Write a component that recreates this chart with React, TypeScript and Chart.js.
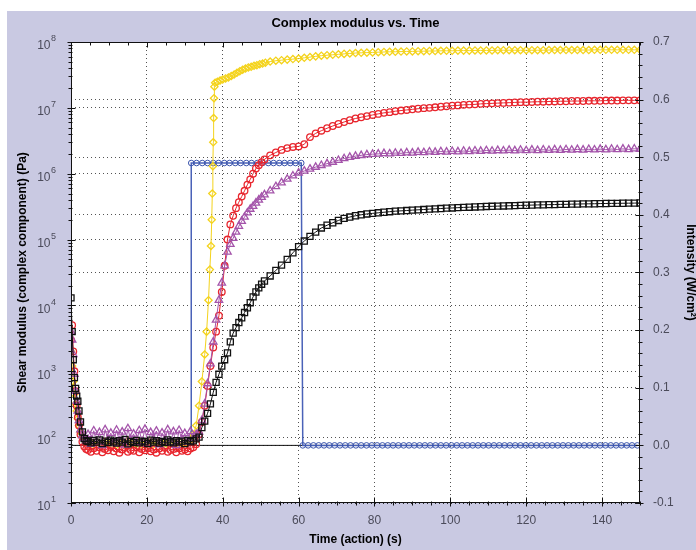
import React, { useEffect, useRef } from 'react';
import { Chart, registerables } from 'chart.js';

Chart.register(...registerables);

// ---------- data ----------
const TITLE = 'Complex modulus vs. Time';
const X_TITLE = 'Time (action) (s)';
const Y_TITLE = 'Shear modulus (complex component) (Pa)';
const Y2_TITLE = 'Intensity (W/cm²)';

const X_TICKS = [0, 20, 40, 60, 80, 100, 120, 140];
const Y_TICKS = [1e1, 1e2, 1e3, 1e4, 1e5, 1e6, 1e7, 1e8];
const Y2_TICKS = [-0.1, 0, 0.1, 0.2, 0.3, 0.4, 0.5, 0.6, 0.7];

// time (s)
const BASE_T = [
  0, 0.3, 0.6, 0.9, 1.2, 1.5, 1.8, 2.1, 2.5, 3, 3.5, 4,
  4.5, 5.25, 6, 6.75, 7.5, 8.25, 9, 9.75, 10.5, 11.25, 12, 12.75, 13.5, 14.25, 15, 15.75, 16.5, 17.25, 18, 18.75, 19.5, 20.25,
  21, 21.75, 22.5, 23.25, 24, 24.75, 25.5, 26.25, 27, 27.75, 28.5, 29.25, 30, 30.75, 31.5, 32.25, 33,
];
const RISE_T = [33.75, 34.5, 35.25, 36, 36.75, 37.5, 38.25, 39, 39.75, 40.5, 41.25, 42, 42.75, 43.5, 44.25, 45, 45.75, 46.5, 47.25, 48, 48.75, 49.5, 50.25, 51];
const YELLOW_RISE_T = [33.75, 34.5, 35.25, 35.75, 36.25, 36.6, 36.9, 37.1, 37.25, 37.4, 37.5, 37.6, 37.7, 37.8, 38, 38.6, 39.3, 40, 40.75, 41.5, 42.25, 43, 43.75, 44.5, 45.25, 46, 46.75, 47.5, 48.25, 49, 49.75, 50.5, 51.25];
const TAIL_T = [52.5, 54, 55.5, 57, 58.5, 60, 61.5, 63, 64.5, 66, 67.5, 69, 70.5, 72, 73.5, 75, 76.5, 78, 79.5, 81, 82.5, 84, 85.5, 87, 88.5, 90, 91.5, 93, 94.5, 96, 97.5, 99, 100.5, 102, 103.5, 105, 106.5, 108, 109.5, 111, 112.5, 114, 115.5, 117, 118.5, 120, 121.5, 123, 124.5, 126, 127.5, 129, 130.5, 132, 133.5, 135, 136.5, 138, 139.5, 141, 142.5, 144, 145.5, 147, 148.5, 150];

// shear modulus (Pa)
const BLACK_G = [
  1.3e4, 4e3, 1.5e3, 800, 550, 420, 350, 250, 170, 120, 95, 88,
  86, 82, 89, 84, 91, 80, 87, 83, 90, 85, 81, 88, 84, 92, 79, 86, 83, 89, 82, 87, 85, 80, 90, 84, 88, 81, 86, 83, 91, 85, 82, 88, 84, 87, 80, 89, 85, 88, 94,
  100, 140, 175, 230, 320, 480, 680, 900, 1200, 1500, 1900, 2800, 3800, 4600, 5500, 6500, 7800, 9200, 1.1e4, 1.35e4, 1.6e4, 1.85e4, 2.1e4, 2.35e4,
  2.8e4, 3.4e4, 4.1e4, 5e4, 6.3e4, 7.8e4, 9.5e4, 1.12e5, 1.3e5, 1.5e5, 1.65e5, 1.8e5, 1.95e5, 2.1e5, 2.2e5, 2.3e5, 2.38e5, 2.45e5, 2.5e5, 2.55e5,
  2.6e5, 2.65e5, 2.7e5, 2.73e5, 2.76e5, 2.8e5, 2.83e5, 2.86e5, 2.9e5, 2.93e5, 2.96e5, 3e5, 3.02e5, 3.05e5, 3.08e5, 3.1e5, 3.13e5, 3.15e5, 3.18e5, 3.2e5,
  3.22e5, 3.24e5, 3.26e5, 3.28e5, 3.3e5, 3.32e5, 3.34e5, 3.36e5, 3.37e5, 3.39e5, 3.4e5, 3.42e5, 3.43e5, 3.45e5, 3.46e5, 3.48e5, 3.49e5, 3.5e5, 3.52e5, 3.53e5,
  3.54e5, 3.55e5, 3.56e5, 3.57e5, 3.58e5, 3.6e5,
];
const RED_G = [
  3e3, 5e3, 2e3, 1e3, 500, 300, 200, 150, 110, 85, 72, 66,
  64, 60, 68, 62, 70, 59, 66, 63, 71, 61, 67, 58, 65, 69, 60, 64, 62, 70, 59, 66, 63, 68, 61, 65, 58, 67, 62, 69, 60, 64, 66, 59, 68, 62, 65, 61, 67, 70, 78,
  110, 170, 300, 600, 1200, 2300, 4000, 7000, 1.6e4, 4e4, 1e5, 1.7e5, 2.3e5, 3e5, 3.7e5, 4.5e5, 5.5e5, 6.8e5, 8.2e5, 1e6, 1.2e6, 1.35e6, 1.5e6, 1.65e6,
  1.9e6, 2.1e6, 2.3e6, 2.45e6, 2.55e6, 2.6e6, 2.8e6, 3.6e6, 4.1e6, 4.5e6, 4.9e6, 5.3e6, 5.7e6, 6.1e6, 6.5e6, 6.9e6, 7.2e6, 7.5e6, 7.8e6, 8.1e6,
  8.4e6, 8.6e6, 8.9e6, 9.1e6, 9.3e6, 9.5e6, 9.7e6, 9.9e6, 1.0e7, 1.02e7, 1.04e7, 1.06e7, 1.08e7, 1.09e7, 1.11e7, 1.12e7, 1.13e7, 1.15e7, 1.16e7, 1.17e7,
  1.18e7, 1.19e7, 1.2e7, 1.21e7, 1.22e7, 1.22e7, 1.23e7, 1.24e7, 1.24e7, 1.25e7, 1.25e7, 1.26e7, 1.26e7, 1.27e7, 1.27e7, 1.27e7, 1.28e7, 1.28e7, 1.28e7, 1.29e7,
  1.29e7, 1.29e7, 1.3e7, 1.3e7, 1.3e7, 1.3e7,
];
const PURPLE_G = [
  4e3, 3e3, 1.8e3, 900, 500, 350, 250, 180, 130, 105, 95, 88,
  110, 78, 125, 85, 118, 75, 130, 92, 115, 80, 128, 88, 120, 76, 135, 90, 112, 82, 126, 86, 132, 79, 118, 94, 124, 77, 116, 89, 130, 83, 121, 75, 127, 91, 114, 84, 122, 96, 110,
  120, 180, 320, 650, 1300, 2800, 6000, 1.2e4, 2.2e4, 4e4, 6.5e4, 8.5e4, 1.05e5, 1.3e5, 1.6e5, 1.9e5, 2.2e5, 2.55e5, 2.9e5, 3.2e5, 3.6e5, 4e5, 4.4e5, 4.8e5,
  5.5e5, 6.4e5, 7.3e5, 8.3e5, 9.3e5, 1.03e6, 1.1e6, 1.18e6, 1.26e6, 1.34e6, 1.42e6, 1.5e6, 1.6e6, 1.7e6, 1.78e6, 1.85e6, 1.9e6, 1.95e6, 1.98e6, 2.0e6,
  2.03e6, 2.01e6, 2.06e6, 2.04e6, 2.09e6, 2.07e6, 2.12e6, 2.1e6, 2.15e6, 2.12e6, 2.17e6, 2.14e6, 2.19e6, 2.16e6, 2.21e6, 2.18e6, 2.23e6, 2.2e6, 2.25e6, 2.21e6,
  2.26e6, 2.23e6, 2.28e6, 2.24e6, 2.29e6, 2.25e6, 2.3e6, 2.26e6, 2.31e6, 2.27e6, 2.32e6, 2.28e6, 2.33e6, 2.29e6, 2.34e6, 2.3e6, 2.35e6, 2.31e6, 2.36e6, 2.32e6,
  2.37e6, 2.33e6, 2.38e6, 2.34e6, 2.39e6, 2.36e6,
];
const YELLOW_G = [
  2e3, 1.2e3, 700, 450, 320, 250, 190, 150, 120, 100, 90, 84,
  80, 84, 78, 86, 81, 77, 85, 79, 83, 80, 76, 84, 82, 78, 87, 80, 83, 79, 85, 77, 82, 80, 86, 78, 81, 84, 79, 83, 77, 85, 80, 82, 78, 86, 81, 84, 90, 110, 150,
  300, 700, 1800, 4000, 1.2e4, 3.5e4, 8e4, 2e5, 5e5, 1.3e6, 3e6, 7e6, 1.4e7, 2.1e7, 2.4e7, 2.5e7, 2.6e7, 2.7e7, 2.8e7, 2.9e7, 3.05e7, 3.2e7, 3.4e7, 3.6e7, 3.8e7, 3.95e7, 4.1e7, 4.2e7, 4.35e7, 4.45e7, 4.6e7, 4.7e7, 4.85e7,
  5.05e7, 5.2e7, 5.3e7, 5.4e7, 5.5e7, 5.6e7, 5.75e7, 5.9e7, 6.05e7, 6.2e7, 6.3e7, 6.4e7, 6.5e7, 6.6e7, 6.7e7, 6.8e7, 6.85e7, 6.9e7, 6.95e7, 7e7,
  7.05e7, 7.1e7, 7.1e7, 7.15e7, 7.2e7, 7.2e7, 7.25e7, 7.25e7, 7.3e7, 7.3e7, 7.35e7, 7.35e7, 7.35e7, 7.4e7, 7.4e7, 7.4e7, 7.45e7, 7.45e7, 7.45e7, 7.45e7,
  7.5e7, 7.5e7, 7.5e7, 7.5e7, 7.5e7, 7.5e7, 7.5e7, 7.5e7, 7.5e7, 7.55e7, 7.55e7, 7.55e7, 7.55e7, 7.55e7, 7.55e7, 7.55e7, 7.55e7,
  7.6e7, 7.6e7, 7.6e7, 7.6e7, 7.6e7, 7.6e7, 7.6e7, 7.6e7, 7.6e7,
];

// light intensity (W/cm²)
const BLUE_T = [
  31.7, 31.7, 33.1, 34.6, 36.0, 37.5, 38.9, 40.4, 41.8, 43.3, 44.7, 46.2, 47.6, 49.1, 50.5, 52.0, 53.4, 54.9, 56.3, 57.8, 59.2, 60.7,
  61.1, 62.5, 63.9, 65.3, 66.7, 68.1, 69.5, 70.9, 72.3, 73.7, 75.1, 76.5, 77.9, 79.3, 80.7, 82.1, 83.5, 84.9, 86.3, 87.7, 89.1, 90.5, 91.9, 93.3,
  94.7, 96.1, 97.5, 98.9, 100.3, 101.7, 103.1, 104.5, 105.9, 107.3, 108.7, 110.1, 111.5, 112.9, 114.3, 115.7, 117.1, 118.5, 119.9, 121.3, 122.7,
  124.1, 125.5, 126.9, 128.3, 129.7, 131.1, 132.5, 133.9, 135.3, 136.7, 138.1, 139.5, 140.9, 142.3, 143.7, 145.1, 146.5, 147.9, 149.3,
];
const BLUE_I = [
  0, 0.49, 0.49, 0.49, 0.49, 0.49, 0.49, 0.49, 0.49, 0.49, 0.49, 0.49, 0.49, 0.49, 0.49, 0.49, 0.49, 0.49, 0.49, 0.49, 0.49, 0.49,
  0, 0, 0, 0, 0, 0, 0, 0, 0, 0, 0, 0, 0, 0, 0, 0, 0, 0, 0, 0, 0, 0, 0, 0, 0,
  0, 0, 0, 0, 0, 0, 0, 0, 0, 0, 0, 0, 0, 0, 0, 0, 0, 0, 0, 0, 0,
  0, 0, 0, 0, 0, 0, 0, 0, 0, 0, 0, 0, 0, 0, 0, 0, 0, 0, 0, 0, 0, 0,
];
const ZERO_T = [0, 150];
const ZERO_I = [0, 0];

// ---------- styling ----------
const FONT = "'Liberation Sans', Arial, Helvetica, sans-serif";
const LAVENDER = '#c9c9e2';
const TICK_COLOR = '#4b4b5a';
const GRID = 'rgba(40,40,40,0.8)';

const pts = (t: number[], v: number[]) => t.map((x, i) => ({ x, y: v[i] }));
const T_ALL = [...BASE_T, ...RISE_T, ...TAIL_T];
const T_YELLOW = [...BASE_T, ...YELLOW_RISE_T, ...TAIL_T];

const framePlugin = {
  id: 'frameDecor',
  beforeDraw(chart: any) {
    const { ctx, chartArea: a, width, height } = chart;
    ctx.save();
    ctx.fillStyle = '#ffffff';
    ctx.fillRect(0, 0, width, height);
    ctx.fillStyle = LAVENDER;
    ctx.fillRect(7, 11, width - 7, height - 11);
    ctx.fillStyle = '#ffffff';
    ctx.fillRect(a.left, a.top, a.right - a.left, a.bottom - a.top);
    ctx.restore();
  },
  afterDraw(chart: any) {
    const { ctx, chartArea: a, scales } = chart;
    const line = (x1: number, y1: number, x2: number, y2: number) => {
      ctx.beginPath();
      ctx.moveTo(x1, y1);
      ctx.lineTo(x2, y2);
      ctx.stroke();
    };
    ctx.save();
    ctx.strokeStyle = '#111';
    ctx.lineWidth = 1;
    const L = Math.round(a.left) + 0.5;
    const R = Math.round(a.right) - 0.5;
    const Tp = Math.round(a.top) + 0.5;
    const B = Math.round(a.bottom) - 0.5;
    ctx.strokeRect(L, Tp, R - L, B - Tp);
    for (let v = 0; v <= 150; v += 5) {
      const p = Math.round(scales.x.getPixelForValue(v)) + 0.5;
      const major = v % 20 === 0;
      line(p, B - (major ? 5 : 1), p, B + (major ? 4 : 3));
      line(p, Tp, p, Tp + (major ? 5 : 3));
    }
    for (let e = 1; e <= 8; e++) {
      for (let m = 1; m <= 9; m++) {
        const v = m * Math.pow(10, e);
        if (v > 1e8) break;
        const p = Math.round(scales.y.getPixelForValue(v)) + 0.5;
        const major = m === 1;
        line(L - (major ? 4 : 3), p, L + (major ? 4 : 1), p);
      }
    }
    for (let i = 0; i <= 40; i++) {
      const v = -0.1 + i * 0.02;
      const p = Math.round(scales.y2.getPixelForValue(v)) + 0.5;
      const major = i % 5 === 0;
      line(R - (major ? 4 : 1), p, R + (major ? 4 : 3), p);
    }
    // left tick labels: 10 with raised exponent
    ctx.fillStyle = TICK_COLOR;
    ctx.textBaseline = 'middle';
    for (const v of Y_TICKS) {
      const p = scales.y.getPixelForValue(v);
      const exp = String(Math.round(Math.log10(v)));
      ctx.font = `9px ${FONT}`;
      const ew = ctx.measureText(exp).width;
      ctx.textAlign = 'left';
      ctx.fillText(exp, L - 16 - ew + 0.5, p - 3);
      ctx.font = `12px ${FONT}`;
      ctx.textAlign = 'right';
      ctx.fillText('10', L - 16 - ew, p + 4);
    }
    // title
    ctx.fillStyle = '#000';
    ctx.font = `bold 13px ${FONT}`;
    ctx.textAlign = 'center';
    ctx.textBaseline = 'middle';
    ctx.fillText(TITLE, (a.left + a.right) / 2, 23);
    ctx.restore();
  },
};

const series = (label: string, data: any[], color: string, style: string, r: number, order: number, axis = 'y') => ({
  label,
  data,
  yAxisID: axis,
  showLine: true,
  borderColor: color,
  borderWidth: 1,
  pointStyle: style,
  pointRadius: r,
  pointBorderWidth: 1.3,
  pointBorderColor: color,
  pointBackgroundColor: 'rgba(0,0,0,0)',
  backgroundColor: 'rgba(0,0,0,0)',
  order,
});

export default function App() {
  const ref = useRef<HTMLCanvasElement | null>(null);

  useEffect(() => {
    if (!ref.current) return;
    const blue = series('Intensity', pts(BLUE_T, BLUE_I), '#3b55ad', 'circle', 2.8, 5, 'y2') as any;
    blue.borderColor = '#4a62b8';
    blue.borderWidth = 1.5;
    blue.pointBorderWidth = 1;
    blue.pointRadius = (c: any) => (c.dataIndex === 0 ? 0 : 2.8);
    const chart = new Chart(ref.current, {
      type: 'scatter',
      data: {
        datasets: [
          series('Sample D', pts(T_ALL, BLACK_G), '#111111', 'rect', 4.3, 1),
          series('Sample C', pts(T_ALL, PURPLE_G), '#a454aa', 'triangle', 4.3, 2),
          series('Sample B', pts(T_ALL, RED_G), '#e8262e', 'circle', 3.3, 3),
          series('Sample A', pts(T_YELLOW, YELLOW_G), '#f4d31c', 'rectRot', 3.6, 4),
          blue,
          {
            label: 'zero',
            data: pts(ZERO_T, ZERO_I),
            yAxisID: 'y2',
            showLine: true,
            borderColor: '#111',
            borderWidth: 1,
            pointRadius: 0,
            backgroundColor: 'rgba(0,0,0,0)',
            order: 6,
          },
        ],
      },
      options: {
        animation: false,
        responsive: false,
        events: [],
        layout: { padding: { top: 42, left: 0, right: 0, bottom: 0 } },
        plugins: {
          legend: { display: false },
          tooltip: { enabled: false },
          title: { display: false },
        },
        scales: {
          x: {
            type: 'linear',
            position: 'bottom',
            min: 0,
            max: 150,
            afterBuildTicks: (s: any) => {
              s.ticks = X_TICKS.map((value) => ({ value }));
            },
            afterFit: (s: any) => {
              s.height = 47;
            },
            grid: { color: GRID, drawTicks: false, lineWidth: 1 },
            border: { display: false, dash: [1, 3] },
            ticks: {
              color: TICK_COLOR,
              font: { size: 12, family: FONT },
              padding: 10,
              maxRotation: 0,
              autoSkip: false,
            },
            title: {
              display: true,
              text: X_TITLE,
              color: '#000',
              font: { size: 12, weight: 'bold', family: FONT },
              padding: { top: 0, bottom: 3 },
            },
          },
          y: {
            type: 'logarithmic',
            position: 'left',
            min: 10,
            max: 1e8,
            afterBuildTicks: (s: any) => {
              s.ticks = Y_TICKS.map((value) => ({ value }));
            },
            afterFit: (s: any) => {
              s.width = 71;
            },
            grid: { color: GRID, drawTicks: false, lineWidth: 1 },
            border: { display: false, dash: [1, 3] },
            ticks: { display: false },
            title: {
              display: true,
              text: Y_TITLE,
              color: '#000',
              font: { size: 12, weight: 'bold', family: FONT },
              padding: { top: 15, bottom: 0 },
            },
          },
          y2: {
            type: 'linear',
            position: 'right',
            min: -0.1,
            max: 0.7,
            afterBuildTicks: (s: any) => {
              s.ticks = Y2_TICKS.map((value) => ({ value }));
            },
            afterFit: (s: any) => {
              s.width = 56;
            },
            grid: { color: GRID, drawTicks: false, lineWidth: 1 },
            border: { display: false, dash: [1, 3] },
            ticks: {
              color: TICK_COLOR,
              font: { size: 12, family: FONT },
              padding: 13,
              autoSkip: false,
              callback: (v: any) => Number(v).toFixed(1),
            },
            title: {
              display: true,
              text: Y2_TITLE,
              color: '#000',
              font: { size: 12, weight: 'bold', family: FONT, lineHeight: 1 },
              padding: { top: 0, bottom: 0 },
            },
          },
        },
      },
      plugins: [framePlugin],
    } as any);
    return () => chart.destroy();
  }, []);

  return (
    <div style={{ position: 'absolute', left: 0, top: 0, width: 696, height: 550 }}>
      <canvas ref={ref} width={696} height={550} style={{ display: 'block', width: 696, height: 550 }} />
    </div>
  );
}
